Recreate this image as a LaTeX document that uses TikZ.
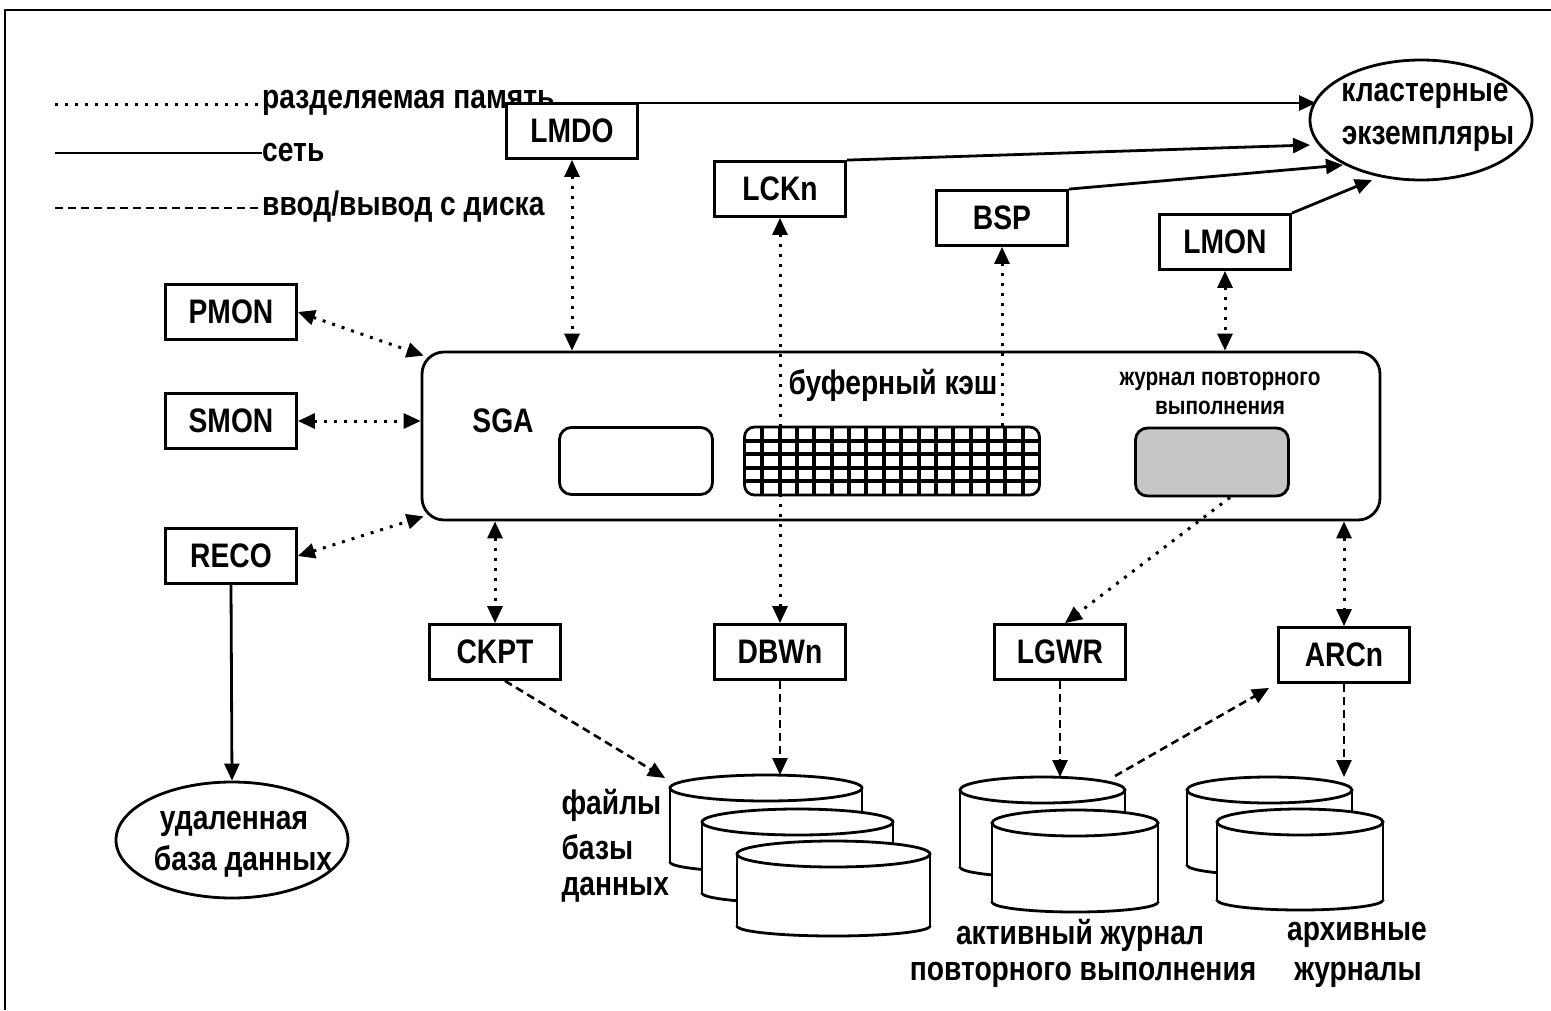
\documentclass[tikz,border=0pt]{standalone}
\usepackage{fontspec}
\setmainfont[FakeStretch=0.83]{Liberation Sans}
\usetikzlibrary{arrows.meta,shapes.geometric,calc}
\newcommand\mycyl[4]{%
  \pgfmathsetmacro\cxc{(#1+#2)/2}\pgfmathsetmacro\crx{(#2-#1)/2}%
  \fill[white] (#1,#3) rectangle (#2,#4);
  \fill[white] (\cxc,#4) ellipse ({\crx} and 10);
  \draw[cylline,fill=white] (\cxc,#3) ellipse ({\crx} and 13);
  \draw[cylline] (#1,#3) -- (#1,#4);
  \draw[cylline] (#2,#3) -- (#2,#4);
  \begin{scope}
    \clip (#1-5,#4) rectangle (#2+5,#4+20);
    \draw[cylline] (\cxc,#4) ellipse ({\crx} and 10);
  \end{scope}}
\begin{document}
\begin{tikzpicture}[x=1pt,y=-1pt,
  every node/.style={font=\fontsize{34}{38}\selectfont\bfseries},
  procbox/.style={draw, line width=2.8pt, minimum width=131pt, minimum height=55pt, inner sep=0pt, fill=white},
  shm/.style={line width=3pt, dash pattern=on 3pt off 7pt},
  net/.style={line width=2.8pt},
  disk/.style={line width=2.6pt, dash pattern=on 8pt off 5pt},
  cylline/.style={line width=2.8pt},
  >={Triangle[length=17pt,width=15pt]},
  small/.style={font=\fontsize{25}{28}\selectfont\bfseries}]
\useasboundingbox (0,0) rectangle (1551,1010);
% frame
\draw[line width=2.8pt] (5,1010) -- (5,10) -- (1551,10);
% legend
\node[anchor=base west,inner sep=0pt] (lg1) at (262,108) {разделяемая память};
\node[anchor=base west,inner sep=0pt] (lg2) at (262,161) {сеть};
\node[anchor=base west,inner sep=0pt] (lg3) at (262,215) {ввод/вывод с диска};
\coordinate (lg1a) at (55,104); \coordinate (lg2a) at (55,153); \coordinate (lg3a) at (55,208);
\draw[shm] (lg1a) -- (lg1a -| lg1.west);
\draw[net] (lg2a) -- (lg2a -| lg2.west);
\draw[disk] (lg3a) -- (lg3a -| lg3.west);
% process boxes
\node[procbox] (lmdo) at (572,131) {LMDO};
\node[procbox] (lckn) at (780,189) {LCKn};
\node[procbox] (bsp) at (1002,218) {BSP};
\node[procbox] (lmon) at (1225,242) {LMON};
\node[procbox] (pmon) at (231,312) {PMON};
\node[procbox] (smon) at (231,421) {SMON};
\node[procbox] (reco) at (231,556) {RECO};
\node[procbox] (ckpt) at (495,652) {CKPT};
\node[procbox] (dbwn) at (780,652) {DBWn};
\node[procbox] (lgwr) at (1060,652) {LGWR};
\node[procbox] (arcn) at (1344,655) {ARCn};
% cluster instances
\node[draw, ellipse, line width=2.8pt, minimum width=222pt, minimum height=120pt] (clu) at (1421,120) {};
\node (clut1) at (1425,96) {кластерные};
\node (clut2) at (1428,139) {экземпляры};
% remote database
\node[draw, ellipse, line width=2.8pt, minimum width=232pt, minimum height=116pt] (rdb) at (232,840) {};
\node (rdbt1) at (234,824) {удаленная};
\node (rdbt2) at (243,861) {база данных};
% SGA
\node[draw, line width=2.8pt, rounded corners=22pt, minimum width=958pt, minimum height=168pt] (sga) at (901,436) {};
\node (sgat) at (503,421) {SGA};
\node[draw, line width=2.8pt, rounded corners=12pt, minimum width=153pt, minimum height=67pt] (ibox) at (636,461) {};
\node[draw, line width=2.8pt, rounded corners=10pt, minimum width=295pt, minimum height=68pt] (cache) at (892,461) {};
\begin{scope}
  \clip[rounded corners=10pt] (cache.north west) rectangle (cache.south east);
  \foreach \i in {1,...,16} \draw[line width=4pt] ({745+\i*295/17},427) -- ++(0,68);
  \foreach \j in {1,...,4} \draw[line width=4pt] (745,{427+\j*68/5}) -- ++(295,0);
\end{scope}
\node (cachet) at (893,385) {буферный кэш};
\node[draw, line width=2.8pt, rounded corners=12pt, minimum width=153pt, minimum height=68pt, fill=gray!45] (redo) at (1212,462) {};
\node[small] (redot1) at (1220,381) {журнал повторного};
\node[small] (redot2) at (1220,408) {выполнения};
% network connectors
\coordinate (netstart) at (555,103);
\coordinate (c1) at (1316,103);
\coordinate (c2) at (1310,145);
\coordinate (c3) at (1343,165);
\coordinate (c4) at (1372,180);
\draw[net,->] (netstart) -- (c1);
\draw[net,->] (lckn.north east) -- (c2);
\draw[net,->] (bsp.north east) -- (c3);
\draw[net,->] (lmon.north east) -- (c4);
\draw[net,->] (reco.south) -- (rdb.north);
% shared memory connectors
\draw[shm,<->] (lmdo.south) -- (lmdo.south |- sga.north);
\draw[shm,<->] (lckn.south) -- (dbwn.north);
\draw[shm,<-] (bsp.south) -- (bsp.south |- cache.north);
\draw[shm,<->] (lmon.south) -- (lmon.south |- sga.north);
\draw[shm,<->] (pmon.east) -- ([shift={(3,5)}]sga.north west);
\draw[shm,<->] (smon.east) -- (smon.east -| sga.west);
\draw[shm,<->] (reco.east) -- ([shift={(3,-5)}]sga.south west);
\draw[shm,<->] (ckpt.north |- sga.south) -- (ckpt.north);
\draw[shm,->] ([xshift=18pt]redo.south) -- ([xshift=5pt]lgwr.north);
\draw[shm,<->] (arcn.north |- sga.south) -- (arcn.north);
% cylinders: database files
\mycyl{670}{862}{788}{862}
\mycyl{702}{893}{822}{893}
\mycyl{737}{930}{854}{926}
% active redo log
\mycyl{960}{1125}{790}{867}
\mycyl{992}{1158}{823}{902}
% archive logs
\mycyl{1187}{1352}{790}{865}
\mycyl{1217}{1383}{822}{900}
\node[anchor=west] (dbf1) at (558,805) {файлы};
\node[anchor=west] (dbf2) at (558,847) {базы};
\node[anchor=west] (dbf3) at (558,890) {данных};
\node (act1) at (1080,935) {активный журнал};
\node (act2) at (1083,975) {повторного выполнения};
\node (arch1) at (1357,935) {архивные};
\node (arch2) at (1358,975) {журналы};
% disk connectors
\coordinate (dbtop) at (665,778);
\coordinate (db1top) at (780,775);
\coordinate (act1top) at (1062,777);
\coordinate (act1r) at (1115,776);
\coordinate (arch1top) at (1345,777);
\draw[disk,->] ([xshift=10pt]ckpt.south) -- (dbtop);
\draw[disk,->] (dbwn.south) -- (db1top);
\draw[disk,->] (lgwr.south) -- (lgwr.south |- act1top);
\draw[disk,->] (act1r) -- ([shift={(-8,4)}]arcn.south west);
\draw[disk,->] (arcn.south) -- (arcn.south |- arch1top);
\end{tikzpicture}
\end{document}
